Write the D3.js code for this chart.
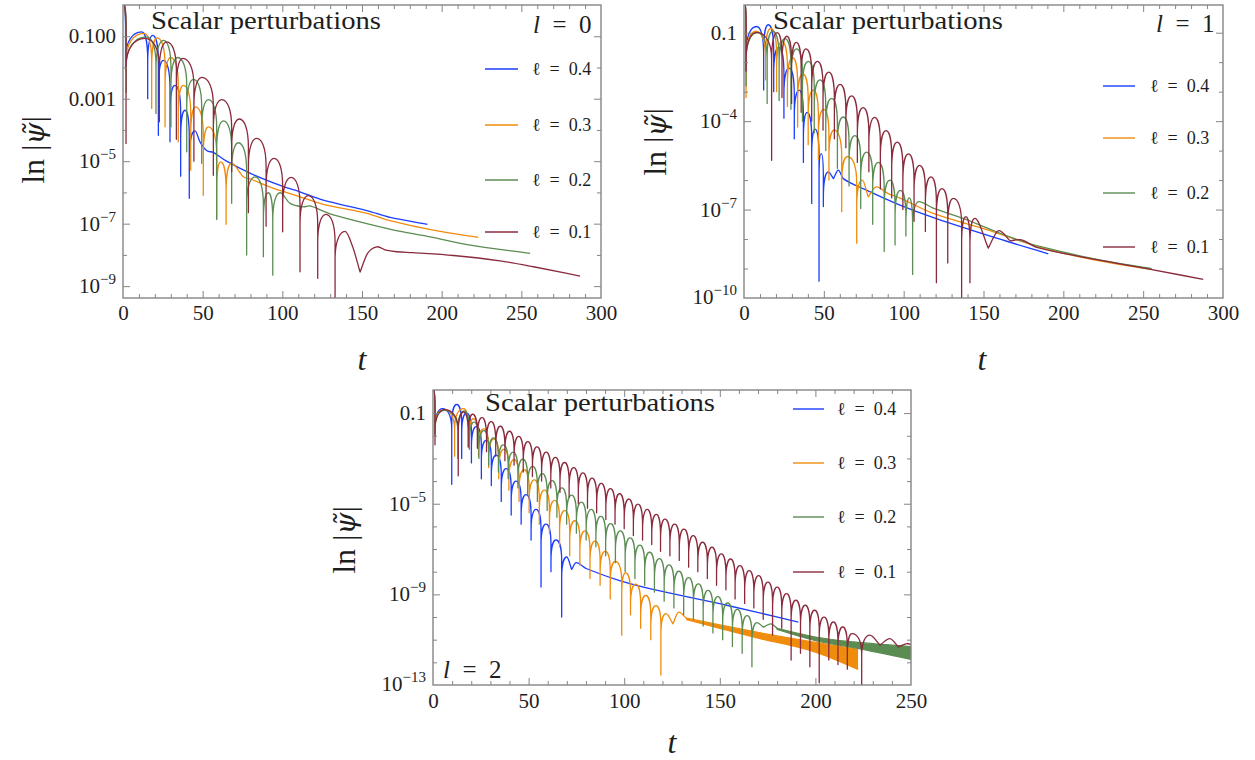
<!DOCTYPE html>
<html>
<head>
<meta charset="utf-8">
<script src="https://cdn.jsdelivr.net/npm/d3@7/dist/d3.min.js"></script>
<style>
  body { margin: 0; background: #fff; }
  svg text { fill: #1e1e1e; }
</style>
</head>
<body>
<svg id="chart" width="1255" height="760" font-family="Liberation Serif"></svg>
<script>
// values are [t, log10|psi|] ; a third entry "d" marks a dip (spike), "v" a soft corner

// ---- l = 0 ----
var l0Blue = [[0,0.1],[1.6,-2.0,"d"],[11.7,-0.86],[15.5,-3.0,"d"],[18.6,-0.97],[22.2,-4.17,"d"],[25.3,-1.77],[29.5,-4.38,"d"],[32.6,-2.57],[36.2,-5.48,"d"],[38.9,-3.37],[41.6,-6.19,"d"],[45.2,-4.03],[48.3,-4.38],[52.5,-4.66],[56.7,-4.72],[65,-5.0],[80,-5.39],[100,-5.8],[111,-5.98],[125.7,-6.25],[153,-6.58],[167.6,-6.8],[191,-7.02]];
var l0Orange = [[0,0.1],[1.8,-2.1,"d"],[13.2,-0.91],[18.0,-3.31,"d"],[21.5,-1.05],[26.4,-3.9,"d"],[29.9,-1.68],[34.7,-4.38,"d"],[37.9,-2.57],[42.5,-5.29,"d"],[45.6,-3.26],[50.4,-6.09,"d"],[53.6,-3.9],[58.8,-6.83,"d"],[61.3,-5.02],[64.7,-7.02,"d"],[68.2,-5.07],[75.5,-5.5],[80,-5.57],[92,-5.82],[111,-6.14],[125.7,-6.38],[153,-6.67],[167.6,-6.9],[194.8,-7.21],[223,-7.44]];
var l0Green = [[0,0.1],[2.0,-2.8,"d"],[14.9,-1.02],[20.7,-3.47,"d"],[25.5,-1.13],[30.1,-3.9,"d"],[34.3,-1.68],[40.0,-4.7,"d"],[44.2,-2.38],[49.4,-5.07,"d"],[53.6,-3.03],[58.8,-6.87,"d"],[63.0,-3.71],[68.2,-6.35,"d"],[72.4,-4.41],[77.6,-8.0,"d"],[82.9,-5.5],[88.1,-8.06,"d"],[91.2,-6.01],[94.0,-8.65,"d"],[98.6,-6.01],[104.8,-6.35],[113.2,-6.46],[117.4,-6.43],[125.7,-6.6],[132,-6.72],[153,-7.0],[174,-7.25],[192.7,-7.42],[216,-7.67],[255.5,-7.95]];
var l0Maroon = [[0,0.1],[1.9,-4.43,"d"],[13.8,-1.07],[22.8,-3.74,"d"],[27.4,-1.18],[33.5,-4.3,"d"],[37.5,-1.71],[44.5,-5.0,"d"],[49.5,-2.32],[56.7,-5.45,"d"],[62.0,-3.03],[68.2,-5.34,"d"],[73.0,-3.65],[78.7,-6.65,"d"],[83.9,-4.27],[89.8,-7.08,"d"],[94.8,-4.91],[100.2,-7.26,"d"],[105.5,-5.52],[111.1,-8.54,"d"],[116.3,-6.1],[122.2,-8.75,"d"],[127.4,-6.7],[133.1,-9.6,"d"],[139.4,-7.25],[144.2,-7.75],[148.8,-8.55,"v"],[153.5,-7.95],[159.3,-7.74],[165,-7.85],[171.8,-7.9],[182,-7.93],[207.4,-8.02],[236.7,-8.19],[257.6,-8.38],[286.9,-8.68]];

// ---- l = 1 ----
var l1Blue = [[0,0.1],[1.3,-2.3,"d"],[7.9,-0.79],[12.3,-2.94,"d"],[15.2,-0.73],[18.6,-3.0,"d"],[21.8,-1.5],[25.0,-3.9,"d"],[28.2,-2.2],[31.5,-4.6,"d"],[34.6,-2.95],[37.2,-5.4,"d"],[39.5,-3.7],[42.4,-6.79,"d"],[44.5,-4.27],[47.0,-9.43,"d"],[48.4,-5.1],[49.7,-6.9,"d"],[52.8,-5.72],[56.0,-5.95,"v"],[59.1,-5.66],[62.2,-5.95],[75,-6.3],[97.7,-6.85],[120,-7.3],[158.2,-7.97],[190.6,-8.5]];
var l1Orange = [[0,0.1],[1.3,-3.2,"d"],[7.5,-0.95],[13.5,-2.6,"d"],[16.8,-0.85],[20.4,-3.0,"d"],[23.8,-1.3],[27.2,-3.5,"d"],[30.4,-1.85],[33.6,-4.2,"d"],[36.9,-2.4],[40.2,-4.8,"d"],[43.4,-2.95],[46.6,-5.3,"d"],[49.9,-3.6],[53.2,-6.0,"d"],[56.5,-4.3],[61.2,-7.07,"d"],[64.8,-5.2],[70.6,-8.14,"d"],[74.1,-6.0],[77.8,-6.57,"v"],[82.7,-6.23],[90,-6.45],[97.7,-6.61],[118.5,-7.13],[152,-7.68],[185.3,-8.28],[220.9,-8.72],[255.3,-9.03]];
var l1Green = [[0,0.1],[1.3,-2.8,"d"],[8.5,-1.0],[14.5,-3.4,"d"],[18.0,-0.95],[22.0,-3.3,"d"],[25.7,-1.2],[29.4,-3.6,"d"],[33.0,-1.55],[36.6,-4.0,"d"],[40.3,-1.97],[44.0,-4.4,"d"],[47.6,-2.6],[51.2,-5.0,"d"],[54.9,-3.23],[58.5,-5.6,"d"],[62.2,-3.86],[65.8,-6.2,"d"],[69.5,-4.49],[73.1,-6.96,"d"],[76.8,-5.05],[80.6,-7.5,"d"],[84.1,-5.4],[87.8,-8.42,"d"],[91.4,-6.0],[94.6,-8.2,"d"],[97.9,-6.35],[101.4,-7.9,"d"],[103.5,-6.6],[105.6,-9.2,"d"],[109.5,-6.73],[118.5,-6.95],[137.3,-7.3],[152,-7.62],[168.6,-7.97],[185.3,-8.25],[220.9,-8.69],[255.3,-9.0]];
var l1Maroon = [[0,0.1],[1.3,-2.3,"d"],[8.0,-0.99],[17.3,-5.33,"d"],[20.8,-1.0],[23.8,-3.2,"d"],[26.8,-1.12],[29.8,-3.4,"d"],[32.8,-1.33],[35.8,-3.7,"d"],[38.8,-1.55],[42.4,-4.0,"d"],[46.0,-1.97],[49.5,-4.3,"d"],[53.1,-2.34],[56.6,-4.6,"d"],[60.2,-2.75],[63.8,-4.9,"d"],[67.4,-3.14],[71.0,-5.4,"d"],[74.6,-3.54],[78.2,-5.72,"d"],[81.8,-3.87],[85.4,-6.3,"d"],[89.0,-4.32],[92.5,-6.6,"d"],[96.0,-4.71],[99.5,-7.0,"d"],[103.0,-5.11],[106.5,-7.4,"d"],[110.0,-5.5],[113.6,-7.74,"d"],[117.1,-5.89],[120.5,-9.48,"d"],[124.0,-6.29],[127.6,-8.81,"d"],[131.1,-6.62],[136.3,-10.2,"d"],[139.0,-7.24],[141.5,-9.48,"d"],[144.6,-7.3],[153,-8.31,"v"],[159.2,-7.72],[166.6,-8.06,"v"],[173.9,-8.03],[183.3,-8.28],[220.9,-8.7],[252.2,-9.0],[287.6,-9.37]];

// ---- l = 2 ----
var l2Blue = [[0,0.1],[1.0,-1.9,"d"],[5.0,-0.8],[9.8,-4.14,"d"],[12.4,-0.62],[15.0,-3.0,"d"],[17.5,-1.0],[20.1,-3.2,"d"],[22.7,-1.6],[25.3,-3.9,"d"],[27.9,-2.2],[30.5,-4.2,"d"],[33.1,-2.85],[35.7,-4.9,"d"],[38.3,-3.45],[40.9,-5.5,"d"],[43.5,-4.0],[46.1,-5.9,"d"],[48.7,-4.6],[51.3,-6.6,"d"],[53.9,-5.25],[56.5,-8.68,"d"],[59.1,-5.9],[61.7,-8.0,"d"],[64.3,-6.6],[67.3,-10.0,"d"],[70.0,-7.35],[72.5,-7.9,"v"],[74.8,-7.6],[80.4,-7.87],[98,-8.4],[118.7,-8.85],[153.6,-9.48],[191.1,-10.22]];
var l2Orange = [[0,0.1],[1.0,-1.8,"d"],[6.0,-0.85],[11.3,-2.9,"d"],[15.9,-0.8],[18.6,-2.5,"d"],[21.2,-1.25],[23.8,-2.9,"d"],[26.5,-1.7],[29.1,-3.4,"d"],[31.8,-2.15],[34.4,-3.9,"d"],[37.1,-2.6],[39.7,-4.4,"d"],[42.4,-3.05],[45.0,-4.9,"d"],[47.7,-3.5],[50.3,-5.4,"d"],[53.0,-3.95],[55.6,-5.9,"d"],[58.3,-4.4],[60.9,-6.3,"d"],[63.6,-4.85],[66.2,-6.9,"d"],[68.9,-5.3],[71.5,-7.3,"d"],[74.2,-5.75],[76.8,-7.7,"d"],[79.5,-6.2],[82.1,-8.3,"d"],[84.8,-6.65],[87.4,-8.6,"d"],[90.1,-7.1],[92.7,-9.2,"d"],[95.4,-7.55],[98.7,-10.8,"d"],[100.7,-8.05],[103.3,-9.9,"d"],[106.0,-8.55],[108.6,-10.5,"d"],[111.3,-9.05],[113.9,-11.0,"d"],[116.6,-9.5],[119.2,-12.56,"d"],[121.9,-9.85],[125.5,-10.3,"v"],[128.3,-9.79],[132.7,-10.08]];
var l2OrangeBand = [[132.7,-10.05,-10.12],[150,-10.35,-10.5],[170,-10.68,-10.93],[200,-11.12,-11.55],[222,-11.42,-12.3]];
var l2Green = [[0,0.1],[1.0,-2.0,"d"],[6.0,-0.88],[13.0,-3.0,"d"],[16.4,-0.9],[19.0,-2.6,"d"],[21.5,-1.4],[24.0,-3.0,"d"],[26.6,-1.77],[29.1,-3.3,"d"],[31.7,-2.09],[34.2,-3.6,"d"],[36.8,-2.4],[39.3,-3.9,"d"],[41.9,-2.72],[44.4,-4.3,"d"],[47.0,-3.03],[49.5,-4.6,"d"],[52.1,-3.35],[54.6,-4.9,"d"],[57.2,-3.67],[59.7,-5.3,"d"],[62.3,-3.98],[64.8,-5.6,"d"],[67.4,-4.3],[69.9,-5.9,"d"],[72.5,-4.62],[75.0,-6.3,"d"],[77.6,-4.93],[80.1,-6.6,"d"],[82.7,-5.25],[85.2,-6.9,"d"],[87.8,-5.56],[90.3,-7.3,"d"],[92.9,-5.88],[95.4,-7.6,"d"],[98.0,-6.2],[100.5,-8.0,"d"],[103.1,-6.51],[105.6,-8.3,"d"],[108.2,-6.83],[110.7,-8.6,"d"],[113.3,-7.14],[115.8,-8.9,"d"],[118.4,-7.42],[120.9,-9.3,"d"],[123.5,-7.7],[126.0,-9.6,"d"],[128.6,-7.98],[131.1,-9.9,"d"],[133.7,-8.26],[136.2,-10.1,"d"],[138.8,-8.54],[141.3,-10.4,"d"],[143.9,-8.82],[146.4,-10.7,"d"],[149.0,-9.1],[151.5,-11.0,"d"],[154.1,-9.38],[156.6,-11.3,"d"],[159.2,-9.66],[161.7,-11.6,"d"],[164.3,-9.94],[166.8,-12.2,"d"],[169.5,-10.25],[172.8,-10.45,"v"],[176.8,-10.3],[180,-10.5]];
var l2GreenBand = [[180,-10.5,-10.55],[200,-10.88,-11.04],[220,-11.1,-11.35],[250,-11.3,-11.87]];
var l2Maroon = [[0,0.1],[1.05,-2.4,"d"],[6.0,-0.85],[13.2,-3.77,"d"],[16.0,-0.95],[18.4,-2.5,"d"],[20.8,-1.05],[23.2,-2.55,"d"],[25.6,-1.2],[28.0,-2.7,"d"],[30.4,-1.38],[32.8,-2.9,"d"],[35.2,-1.58],[37.6,-3.1,"d"],[40.0,-1.8],[42.4,-3.3,"d"],[44.8,-2.03],[47.2,-3.6,"d"],[49.6,-2.26],[52.0,-3.8,"d"],[54.4,-2.49],[56.8,-4.0,"d"],[59.2,-2.72],[61.6,-4.3,"d"],[64.0,-2.95],[66.4,-4.5,"d"],[68.8,-3.18],[71.2,-4.7,"d"],[73.6,-3.41],[76.0,-5.0,"d"],[78.4,-3.64],[80.8,-5.2,"d"],[83.2,-3.87],[85.6,-5.4,"d"],[88.0,-4.1],[90.4,-5.7,"d"],[92.8,-4.33],[95.2,-5.9,"d"],[97.6,-4.56],[100.0,-6.1,"d"],[102.4,-4.79],[104.8,-6.4,"d"],[107.2,-5.02],[109.6,-6.6,"d"],[112.0,-5.25],[114.4,-6.8,"d"],[116.8,-5.47],[119.0,-7.1,"d"],[121.3,-5.68],[123.9,-7.3,"d"],[126.4,-5.9],[128.8,-7.5,"d"],[131.2,-6.12],[133.7,-7.8,"d"],[136.1,-6.41],[138.5,-8.0,"d"],[141.0,-6.7],[143.5,-8.3,"d"],[145.9,-6.92],[148.3,-8.6,"d"],[150.8,-7.21],[153.2,-8.8,"d"],[155.6,-7.44],[158.0,-9.2,"d"],[160.5,-7.73],[163.0,-9.4,"d"],[165.4,-7.95],[167.8,-9.6,"d"],[170.3,-8.17],[172.7,-10.1,"d"],[175.2,-8.46],[177.6,-10.8,"d"],[180.0,-8.68],[182.4,-10.5,"d"],[184.9,-8.97],[187.3,-11.9,"d"],[189.8,-9.26],[192.2,-11.6,"d"],[194.7,-9.48],[197.1,-12.2,"d"],[199.6,-9.7],[202.0,-12.9,"d"],[204.5,-10.0],[207.0,-11.9,"d"],[209.4,-10.22],[211.8,-12.1,"d"],[214.3,-10.44],[216.7,-12.3,"d"],[219.2,-10.73],[224.2,-13.3,"d"],[228.5,-10.8],[233.8,-11.24,"v"],[239.0,-10.95],[243.4,-11.32,"v"],[247.8,-11.17],[250,-11.22]];

var legendLabels = ["\u2113\u2002=\u20020.4", "\u2113\u2002=\u20020.3", "\u2113\u2002=\u20020.2", "\u2113\u2002=\u20020.1"];
var colors = ["#1a3dff", "#f08c0c", "#5b8c52", "#8a2b3d"];
var xTicks300 = [0, 50, 100, 150, 200, 250, 300];
var xTicks250 = [0, 50, 100, 150, 200, 250];
var yLab0 = [[1e-1, "0.100"], [1e-3, "0.001"], [1e-5, "10", "\u22125"], [1e-7, "10", "\u22127"], [1e-9, "10", "\u22129"]];
var yLab1 = [[1e-1, "0.1"], [1e-4, "10", "\u22124"], [1e-7, "10", "\u22127"], [1e-10, "10", "\u221210"]];
var yLab2 = [[1e-1, "0.1"], [1e-5, "10", "\u22125"], [1e-9, "10", "\u22129"], [1e-13, "10", "\u221213"]];

var panels = [
  { id: 0, left: 123, right: 601, top: 5, bottom: 298, tMax: 300, logMin: -9.38, logMax: 0,
    xTicks: xTicks300, yLab: yLab0, lval: "0",
    series: [{ pts: l0Blue }, { pts: l0Orange }, { pts: l0Green }, { pts: l0Maroon }],
    title: [151, 29], lpos: [533, 33], leg: [485, 518, 532, [69, 125, 180, 232]], ylab: [33, 150], tlab: [362, 370], tickY: 320 },
  { id: 1, left: 744, right: 1223, top: 5, bottom: 298, tMax: 300, logMin: -10, logMax: -0.06,
    xTicks: xTicks300, yLab: yLab1, lval: "1",
    series: [{ pts: l1Blue }, { pts: l1Orange }, { pts: l1Green }, { pts: l1Maroon }],
    title: [773, 29], lpos: [1156, 32], leg: [1103, 1135, 1150, [86, 138, 193, 247]], ylab: [655, 142], tlab: [982, 370], tickY: 320 },
  { id: 2, left: 433, right: 911, top: 390, bottom: 685, tMax: 250, logMin: -13, logMax: 0.02,
    xTicks: xTicks250, yLab: yLab2, lval: "2",
    series: [{ pts: l2Blue }, { pts: l2Orange, band: l2OrangeBand }, { pts: l2Green, band: l2GreenBand }, { pts: l2Maroon }],
    title: [485, 411], lpos: [443, 678], leg: [793, 824, 837, [409, 463, 517, 572]], ylab: [344, 540], tlab: [672, 753], tickY: 708 }
];

var svg = d3.select("#chart");
var frameColor = "#858585";
var serif = "Liberation Serif";

function buildPath(pts, x, y, dec) {
  var P = pts.map(function(d) { return { X: x(d[0]), Y: y(Math.pow(10, d[1])), k: d[2] || "" }; });
  function sec(u, v) { return (v.Y - u.Y) / (v.X - u.X); }
  P.forEach(function(p, i) {
    var a = P[i - 1], b = P[i + 1];
    if (p.k === "d") return;
    if (p.k === "v") { p.mIn = a ? sec(a, p) : 0; p.mOut = b ? sec(p, b) : 0; return; }
    var m = 0;
    if ((a && a.k === "d") || (b && b.k === "d")) m = 0;
    else if (a && b) m = sec(a, b);
    else if (b) m = sec(p, b);
    else if (a) m = sec(a, p);
    p.mIn = p.mOut = m;
  });
  var path = d3.path();
  var cur = P[0];
  path.moveTo(cur.X, cur.Y);
  for (var i = 1; i < P.length; i++) {
    var p = P[i];
    if (p.k === "d") {
      var n = P[i + 1];
      var hA = Math.min(0.9 * dec, 0.75 * (p.Y - cur.Y));
      var dxA = p.X - cur.X;
      path.bezierCurveTo(cur.X + 0.55 * dxA, cur.Y + cur.mOut * 0.55 * dxA, p.X, cur.Y + 0.35 * hA, p.X, cur.Y + hA);
      path.lineTo(p.X, p.Y);
      if (n) {
        var hB = Math.min(0.9 * dec, 0.75 * (p.Y - n.Y));
        var dxB = n.X - p.X;
        path.lineTo(p.X, n.Y + hB);
        path.bezierCurveTo(p.X, n.Y + 0.35 * hB, n.X - 0.55 * dxB, n.Y - n.mIn * 0.55 * dxB, n.X, n.Y);
        cur = n; i++;
      }
    } else {
      var dx = p.X - cur.X;
      path.bezierCurveTo(cur.X + dx / 3, cur.Y + cur.mOut * dx / 3, p.X - dx / 3, p.Y - p.mIn * dx / 3, p.X, p.Y);
      cur = p;
    }
  }
  return path.toString();
}

function styleAxis(g) {
  g.select(".domain").remove();
  g.selectAll(".tick line").attr("stroke", frameColor).attr("stroke-width", 1);
}

function drawPanel(cfg) {
  var x = d3.scaleLinear().domain([0, cfg.tMax]).range([cfg.left, cfg.right]);
  var y = d3.scaleLog().domain([Math.pow(10, cfg.logMin), Math.pow(10, cfg.logMax)]).range([cfg.bottom, cfg.top]);
  var dec = (cfg.bottom - cfg.top) / (cfg.logMax - cfg.logMin);
  var w = cfg.right - cfg.left, h = cfg.bottom - cfg.top;

  var clipId = "clip" + cfg.id;
  svg.append("clipPath").attr("id", clipId).append("rect")
    .attr("x", cfg.left).attr("y", cfg.top).attr("width", w).attr("height", h);

  var plot = svg.append("g").attr("clip-path", "url(#" + clipId + ")");
  cfg.series.forEach(function(s, i) {
    if (s.band) {
      var area = d3.area()
        .x(function(d) { return x(d[0]); })
        .y0(function(d) { return y(Math.pow(10, d[2])); })
        .y1(function(d) { return y(Math.pow(10, d[1])); })
        .curve(d3.curveMonotoneX);
      plot.append("path").datum(s.band).attr("d", area)
        .attr("fill", colors[i]).attr("stroke", colors[i]).attr("stroke-width", 1.2);
    }
    plot.append("path").attr("d", buildPath(s.pts, x, y, dec))
      .attr("fill", "none").attr("stroke", colors[i]).attr("stroke-width", 1.3)
      .attr("stroke-linejoin", "round");
  });

  // frame
  svg.append("rect").attr("x", cfg.left).attr("y", cfg.top).attr("width", w).attr("height", h)
    .attr("fill", "none").attr("stroke", frameColor).attr("stroke-width", 1.4);

  // x ticks
  var minor = d3.range(0, cfg.tMax + 1, 10).filter(function(t) { return t % 50 !== 0; });
  var inner = cfg.xTicks.filter(function(t) { return t > 0 && t < cfg.tMax; });
  svg.append("g").attr("transform", "translate(0," + cfg.bottom + ")")
    .call(d3.axisBottom(x).tickValues(cfg.xTicks).tickSize(0).tickPadding(8).tickFormat(d3.format("d")))
    .call(styleAxis)
    .call(function(g) {
      g.attr("font-family", serif).attr("font-size", null);
      g.selectAll("text").attr("font-size", 21)
        .attr("fill", "#1e1e1e").attr("dy", null).attr("y", cfg.tickY - cfg.bottom);
    });
  [[d3.axisBottom, cfg.bottom], [d3.axisTop, cfg.top]].forEach(function(a) {
    svg.append("g").attr("transform", "translate(0," + a[1] + ")")
      .call(a[0](x).tickValues(inner).tickSize(-7).tickFormat("")).call(styleAxis);
    svg.append("g").attr("transform", "translate(0," + a[1] + ")")
      .call(a[0](x).tickValues(minor).tickSize(-4).tickFormat("")).call(styleAxis);
  });

  // y ticks: every decade, labelled decades longer
  var labelled = cfg.yLab.map(function(d) { return d[0]; });
  var decades = d3.range(Math.ceil(cfg.logMin), Math.floor(cfg.logMax) + 1).map(function(e) { return Math.pow(10, e); })
    .filter(function(v) { return y(v) < cfg.bottom - 1 && y(v) > cfg.top + 1; });
  var majorY = decades.filter(function(v) { return labelled.some(function(l) { return Math.abs(Math.log10(l / v)) < 0.01; }); });
  var minorY = decades.filter(function(v) { return majorY.indexOf(v) < 0; });
  [[d3.axisLeft, cfg.left], [d3.axisRight, cfg.right]].forEach(function(a) {
    svg.append("g").attr("transform", "translate(" + a[1] + ",0)")
      .call(a[0](y).tickValues(majorY).tickSize(-7).tickFormat("")).call(styleAxis);
    svg.append("g").attr("transform", "translate(" + a[1] + ",0)")
      .call(a[0](y).tickValues(minorY).tickSize(-4).tickFormat("")).call(styleAxis);
  });

  cfg.yLab.forEach(function(d) {
    var yy = y(d[0]);
    var t = svg.append("text").attr("x", cfg.left - 7).attr("y", Math.min(yy + 7, cfg.bottom + 6))
      .attr("font-family", serif).attr("text-anchor", "end").attr("font-size", 21);
    if (d.length === 2) {
      t.text(d[1]);
    } else {
      t.append("tspan").text(d[1]);
      t.append("tspan").attr("dy", -9).attr("font-size", 15).text(d[2]);
    }
  });

  // title, l label
  svg.append("text").attr("x", cfg.title[0]).attr("y", cfg.title[1]).attr("font-size", 25)
    .attr("font-family", serif)
    .attr("textLength", 230).attr("lengthAdjust", "spacingAndGlyphs").text("Scalar perturbations");
  var lt = svg.append("text").attr("x", cfg.lpos[0]).attr("y", cfg.lpos[1]).attr("font-size", 25)
    .attr("font-family", serif);
  lt.append("tspan").attr("font-style", "italic").text("l");
  lt.append("tspan").text("\u2002=\u2002" + cfg.lval);

  // legend
  legendLabels.forEach(function(lab, i) {
    var ly = cfg.leg[3][i];
    svg.append("line").attr("x1", cfg.leg[0]).attr("x2", cfg.leg[1]).attr("y1", ly).attr("y2", ly)
      .attr("stroke", colors[i]).attr("stroke-width", 1.4);
    svg.append("text").attr("x", cfg.leg[2]).attr("y", ly + 6).attr("font-size", 18)
      .attr("font-family", serif).text(lab);
  });

  // axis labels
  var yl = svg.append("text").attr("transform", "translate(" + (cfg.ylab[0] + 11) + "," + cfg.ylab[1] + ") rotate(-90)")
    .attr("font-family", serif).attr("text-anchor", "middle").attr("font-size", 32);
  yl.append("tspan").text("ln |");
  yl.append("tspan").attr("font-style", "italic").attr("font-family", "DejaVu Serif").attr("font-size", 28).text("\u03c8\u0303");
  yl.append("tspan").text("|");
  svg.append("text").attr("x", cfg.tlab[0]).attr("y", cfg.tlab[1]).attr("text-anchor", "middle")
    .attr("font-family", serif).attr("font-size", 32).attr("font-style", "italic").text("t");
}

panels.forEach(drawPanel);
</script>
</body>
</html>
